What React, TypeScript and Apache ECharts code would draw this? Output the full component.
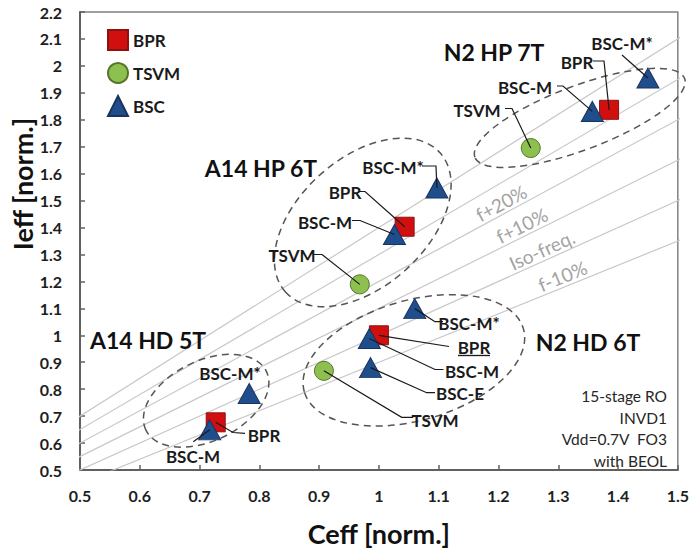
import React, { useEffect, useRef } from "react";
import * as echarts from "echarts";

// ---- data (Ceff, Ieff) normalized ----
const bprPoints: number[][] = [
  [1.385, 1.837],
  [1.043, 1.403],
  [1.0, 1.0],
  [0.727, 0.677],
];
const tsvmPoints: number[][] = [
  [1.254, 1.695],
  [0.968, 1.189],
  [0.908, 0.868],
];
const bscPoints: number[][] = [
  [1.45, 1.955],
  [1.357, 1.831],
  [1.097, 1.547],
  [1.026, 1.374],
  [1.06, 1.099],
  [0.984, 0.988],
  [0.986, 0.88],
  [0.783, 0.784],
  [0.717, 0.649],
];
// iso-frequency reference lines  Ieff = k * Ceff
const isoSlopes: number[] = [0.9, 1.0, 1.1, 1.2, 1.3, 1.4];
const isoLabels = [
  { k: 1.2, x: 1.213, text: "f+20%" },
  { k: 1.1, x: 1.247, text: "f+10%" },
  { k: 1.0, x: 1.28, text: "Iso-freq." },
  { k: 0.9, x: 1.314, text: "f-10%" },
];
const legendNames = ["BPR", "TSVM", "BSC"];

// ---- layout of annotations (pixels) ----
const groupTitles = [
  { text: "N2 HP 7T", x: 494, y: 52 },
  { text: "A14 HP 6T", x: 261, y: 168 },
  { text: "A14 HD 5T", x: 148, y: 340 },
  { text: "N2 HD 6T", x: 588, y: 342 },
];
type Ann = { text: string; x: number; y: number; pre?: number[][]; post?: number[][]; target?: [string, number]; underline?: boolean };
const annotations: Ann[] = [
  { text: "BSC-M*", x: 622, y: 43, pre: [[622, 55]], target: ["BSC", 0] },
  { text: "BPR", x: 577, y: 62, pre: [[593, 61], [604, 61]], target: ["BPR", 0] },
  { text: "BSC-M", x: 525, y: 87, pre: [[557, 86], [563, 86]], target: ["BSC", 1] },
  { text: "TSVM", x: 477, y: 110, pre: [[505, 108.5], [512, 108.5]], target: ["TSVM", 0] },
  { text: "BSC-M*", x: 393, y: 167, pre: [[422, 166], [436, 166]], target: ["BSC", 2] },
  { text: "BPR", x: 345, y: 192, pre: [[358.5, 191.5], [365, 191.5]], target: ["BPR", 1] },
  { text: "BSC-M", x: 325, y: 222, pre: [[352, 220.5], [360, 220.5]], target: ["BSC", 3] },
  { text: "TSVM", x: 292, y: 255, pre: [[313.5, 254.5], [322, 254.5]], target: ["TSVM", 1] },
  { text: "BSC-M*", x: 469, y: 323, post: [[435, 321.7], [443, 321.7]], target: ["BSC", 4] },
  { text: "BPR", x: 474, y: 347, post: [[449, 346.5]], target: ["BPR", 2], underline: true },
  { text: "BSC-M", x: 472, y: 371, post: [[435, 369.5], [443.5, 369.5]], target: ["BSC", 5] },
  { text: "BSC-E", x: 460, y: 393.5, post: [[426.7, 392.7], [435, 392.7]], target: ["BSC", 6] },
  { text: "TSVM", x: 435, y: 420, post: [[401.7, 417.3], [413.3, 417.3]], target: ["TSVM", 2] },
  { text: "BSC-M*", x: 230, y: 373 },
  { text: "BPR", x: 264, y: 435, post: [[233, 432.5], [245, 433.3]], target: ["BPR", 3] },
  { text: "BSC-M", x: 193, y: 456, pre: [[193.3, 441.7]], target: ["BSC", 8] },
];
// ellipses: center in data coordinates, radii in px, rotation deg
const ellipses = [
  { c: [1.336, 1.807], rx: 112, ry: 32, rot: 20.6 },
  { c: [0.973, 1.419], rx: 104, ry: 64, rot: 42 },
  { c: [1.0585, 0.907], rx: 114, ry: 60, rot: 16 },
  { c: [0.711, 0.757], rx: 67, ry: 40, rot: 26 },
];
const noteLines = ["15-stage RO", "INVD1", "Vdd=0.7V  FO3", "with BEOL"];

const FONT = "Lato, 'Open Sans', sans-serif";

export default function App() {
  const ref = useRef<HTMLDivElement>(null);
  useEffect(() => {
    if (!ref.current) return;
    const chart = echarts.init(ref.current, undefined, { renderer: "svg" });
    const seriesData: Record<string, number[][]> = { BPR: bprPoints, TSVM: tsvmPoints, BSC: bscPoints };

    const isoSeries = isoSlopes.map((k) => ({
      type: "line" as const,
      name: "iso" + k,
      data: [
        [0, 0],
        [1.7, 1.7 * k],
      ],
      symbol: "none",
      silent: true,
      z: 1,
      lineStyle: { color: "#c8c8c8", width: 1.2 },
    }));

    chart.setOption({
      animation: false,
      backgroundColor: "#ffffff",
      textStyle: { fontFamily: FONT },
      grid: { left: 80, top: 12, right: 14, bottom: 81, show: true, borderColor: "#808080", borderWidth: 1.5 },
      legend: {
        data: legendNames,
        orient: "vertical",
        left: 102,
        top: 24,
        itemWidth: 20,
        itemHeight: 20,
        itemGap: 11,
        textStyle: { fontSize: 17, fontWeight: "bold", color: "#1a1a1a", fontFamily: FONT },
      },
      xAxis: {
        type: "value",
        min: 0.5,
        max: 1.5,
        interval: 0.1,
        name: "Ceff [norm.]",
        nameLocation: "middle",
        nameGap: 50,
        nameTextStyle: { fontSize: 27, fontWeight: "bold", color: "#111", fontFamily: FONT },
        axisLine: { lineStyle: { color: "#606060", width: 2 } },
        axisTick: { inside: true, length: 5, lineStyle: { color: "#606060", width: 1.5 } },
        axisLabel: { fontSize: 16, fontWeight: "bold", color: "#1e1e1e", margin: 17, fontFamily: FONT },
        splitLine: { show: false },
      },
      yAxis: {
        type: "value",
        min: 0.5,
        max: 2.2,
        interval: 0.1,
        axisLine: { lineStyle: { color: "#606060", width: 2 } },
        axisTick: { inside: true, length: 5, lineStyle: { color: "#606060", width: 1.5 } },
        axisLabel: { fontSize: 16, fontWeight: "bold", color: "#1e1e1e", margin: 18, fontFamily: FONT },
        splitLine: { show: false },
      },
      series: [
        ...isoSeries,
        {
          type: "scatter",
          name: "BPR",
          data: bprPoints,
          symbol: "rect",
          symbolSize: 19,
          z: 3,
          itemStyle: { color: "#d20f0f", borderColor: "#8c1212", borderWidth: 1, opacity: 1 },
        },
        {
          type: "scatter",
          name: "TSVM",
          data: tsvmPoints,
          symbol: "circle",
          symbolSize: 19,
          z: 3,
          itemStyle: { color: "#8dc04f", borderColor: "#56752c", borderWidth: 1, opacity: 1 },
        },
        {
          type: "scatter",
          name: "BSC",
          data: bscPoints,
          symbol: "triangle",
          symbolSize: [22, 20],
          z: 4,
          itemStyle: { color: "#1f4e8d", borderColor: "#1b335e", borderWidth: 1, opacity: 1 },
        },
      ],
    });

    const seriesIdx: Record<string, number> = { BPR: isoSlopes.length, TSVM: isoSlopes.length + 1, BSC: isoSlopes.length + 2 };
    const toPx = (p: number[]) => chart.convertToPixel({ seriesIndex: seriesIdx.BPR }, p) as number[];

    const graphics: any[] = [];

    // iso labels
    isoLabels.forEach((l) => {
      const p = toPx([l.x, l.x * l.k]);
      const p2 = toPx([l.x + 0.1, (l.x + 0.1) * l.k]);
      const ang = Math.atan2(p[1] - p2[1], p2[0] - p[0]);
      graphics.push({
        type: "text",
        x: p[0] - 11 * Math.sin(ang),
        y: p[1] - 11 * Math.cos(ang),
        rotation: ang,
        z: 5,
        style: { text: l.text, fontSize: 19, fontFamily: FONT, fill: "#a3a3a3", align: "center", verticalAlign: "middle" },
      });
    });

    // ellipses
    ellipses.forEach((e) => {
      const c = toPx(e.c);
      graphics.push({
        type: "ellipse",
        x: c[0],
        y: c[1],
        rotation: (e.rot * Math.PI) / 180,
        z: 6,
        shape: { cx: 0, cy: 0, rx: e.rx, ry: e.ry },
        style: { fill: "none", stroke: "#555", lineWidth: 1.5, lineDash: [7, 5] },
      });
    });

    // group titles
    groupTitles.forEach((g) => {
      graphics.push({
        type: "text",
        x: g.x,
        y: g.y,
        z: 7,
        style: { text: g.text, fontSize: 23, fontWeight: "bold", fontFamily: FONT, fill: "#111", align: "center", verticalAlign: "middle" },
      });
    });

    // annotations with leader lines
    annotations.forEach((a) => {
      graphics.push({
        type: "text",
        x: a.x,
        y: a.y,
        z: 8,
        style: { text: a.text, fontSize: 17, fontWeight: "bold", fontFamily: FONT, fill: "#1a1a1a", align: "center", verticalAlign: "middle" },
      });
      if (a.underline) {
        graphics.push({
          type: "line",
          z: 8,
          shape: { x1: a.x - 16, y1: a.y + 8.5, x2: a.x + 16, y2: a.y + 8.5 },
          style: { stroke: "#1a1a1a", lineWidth: 1.3 },
        });
      }
      if (a.target) {
        const [sName, idx] = a.target;
        const m = toPx(seriesData[sName][idx]);
        let pts: number[][] = [];
        if (a.pre) pts = [...a.pre, m];
        else if (a.post) pts = [m, ...a.post];
        graphics.push({
          type: "polyline",
          z: 8,
          shape: { points: pts },
          style: { stroke: "#1a1a1a", lineWidth: 1.2, fill: "none" },
        });
      }
    });

    // note block
    noteLines.forEach((t, i) => {
      graphics.push({
        type: "text",
        x: 667,
        y: 396 + i * 21.5,
        z: 7,
        style: { text: t, fontSize: 15.5, fontFamily: FONT, fill: "#262626", align: "right", verticalAlign: "middle" },
      });
    });

    // y axis name
    graphics.push({
      type: "text",
      x: 22,
      y: 184,
      rotation: Math.PI / 2,
      z: 7,
      style: { text: "Ieff [norm.]", fontSize: 27, fontWeight: "bold", fontFamily: FONT, fill: "#111", align: "center", verticalAlign: "middle" },
    });

    chart.setOption({ graphic: graphics });

    return () => chart.dispose();
  }, []);

  return <div ref={ref} style={{ position: "fixed", left: 0, top: 0, width: 692, height: 552 }} />;
}
